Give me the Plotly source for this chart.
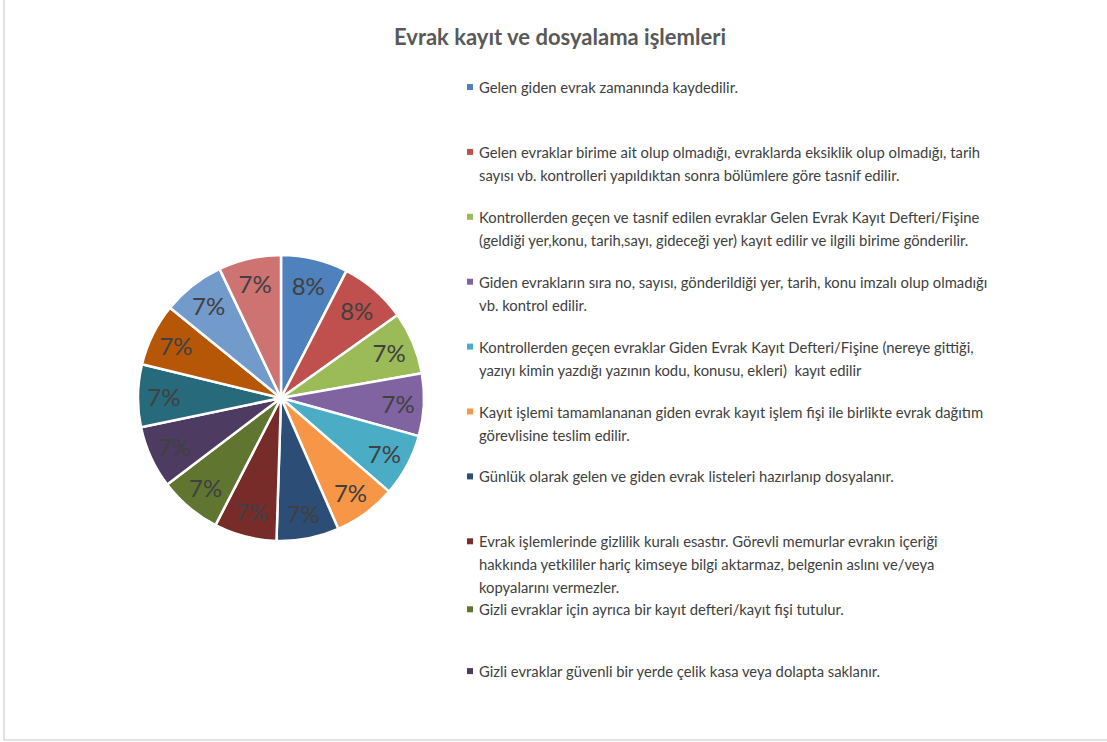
import plotly.graph_objects as go

W, H = 1107, 742

# pie slices (14 items, first two slightly larger -> 8%, rest 7%)
items = [f'Madde {i}' for i in range(1, 15)]
values = [30, 30, 28, 28, 28, 28, 28, 28, 28, 28, 28, 28, 28, 28]
colors = ['#4F81BD', '#C0504D', '#9BBB59', '#8064A2', '#4BACC6', '#F79646',
          '#2C4D75', '#772C2A', '#5F7530', '#4D3B62', '#276A7C', '#B65708',
          '#729ACA', '#CD7371']

# legend text as shown in the chart (only the first 10 entries are visible)
legend_lines = [
    ['Gelen giden evrak zamanında kaydedilir.'],
    ['Gelen evraklar birime ait olup olmadığı, evraklarda eksiklik olup olmadığı, tarih',
     'sayısı vb. kontrolleri yapıldıktan sonra bölümlere göre tasnif edilir.'],
    ['Kontrollerden geçen ve tasnif edilen evraklar Gelen Evrak Kayıt Defteri/Fişine',
     '(geldiği yer,konu, tarih,sayı, gideceği yer) kayıt edilir ve ilgili birime gönderilir.'],
    ['Giden evrakların sıra no, sayısı, gönderildiği yer, tarih, konu imzalı olup olmadığı',
     'vb. kontrol edilir.'],
    ['Kontrollerden geçen evraklar Giden Evrak Kayıt Defteri/Fişine (nereye gittiği,',
     'yazıyı kimin yazdığı yazının kodu, konusu, ekleri)  kayıt edilir'],
    ['Kayıt işlemi tamamlananan giden evrak kayıt işlem fişi ile birlikte evrak dağıtım',
     'görevlisine teslim edilir.'],
    ['Günlük olarak gelen ve giden evrak listeleri hazırlanıp dosyalanır.'],
    ['Evrak işlemlerinde gizlilik kuralı esastır. Görevli memurlar evrakın içeriği',
     'hakkında yetkililer hariç kimseye bilgi aktarmaz, belgenin aslını ve/veya',
     'kopyalarını vermezler.'],
    ['Gizli evraklar için ayrıca bir kayıt defteri/kayıt fişi tutulur.'],
    ['Gizli evraklar güvenli bir yerde çelik kasa veya dolapta saklanır.'],
]

FONT = 'Lato, Open Sans, sans-serif'
TXT = '#404040'

fig = go.Figure(go.Pie(
    labels=items, values=values, sort=False,
    direction='clockwise', rotation=0,
    marker=dict(colors=colors, line=dict(color='white', width=2.5)),
    texttemplate='%{percent:.0%}', textposition='inside',
    insidetextorientation='horizontal',
    textfont=dict(family=FONT, size=24, color=TXT),
    domain=dict(x=[138 / W, 424 / W], y=[1 - 541 / H, 1 - 255 / H]),
    showlegend=False, hoverinfo='label+value+percent'))

# custom legend: fixed slots, text starts at top of slot
annotations = []
shapes = []
prev_last = -100
for i, lines in enumerate(legend_lines):
    y0 = max(87 + 64.9 * i, prev_last + 22)
    shapes.append(dict(type='rect', xref='paper', yref='paper',
                       x0=467 / W, x1=473 / W,
                       y0=1 - (y0 + 3) / H, y1=1 - (y0 - 3) / H,
                       fillcolor=colors[i], line=dict(width=0)))
    for k, ln in enumerate(lines):
        yy = y0 + 23 * k
        annotations.append(dict(text=ln, xref='paper', yref='paper',
                                x=477 / W, y=1 - yy / H,
                                xanchor='left', yanchor='middle',
                                showarrow=False,
                                font=dict(family=FONT, size=14.8, color=TXT)))
        prev_last = yy

# chart area border
shapes.append(dict(type='rect', xref='paper', yref='paper',
                   x0=4 / W, x1=1.01, y0=1 - 740 / H, y1=1.01,
                   line=dict(color='#D9D9D9', width=1.5)))

fig.update_layout(
    width=W, height=H,
    margin=dict(l=0, r=0, t=0, b=0),
    paper_bgcolor='white', plot_bgcolor='white',
    title=dict(text='<b>Evrak kayıt ve dosyalama işlemleri</b>',
               x=560 / W, xanchor='center', y=1 - 37 / H, yanchor='middle',
               font=dict(family=FONT, size=22, color='#595959')),
    annotations=annotations, shapes=shapes,
)

fig.write_html('out.html', config={'displayModeBar': False},
               post_script="document.body.style.margin='0';")
